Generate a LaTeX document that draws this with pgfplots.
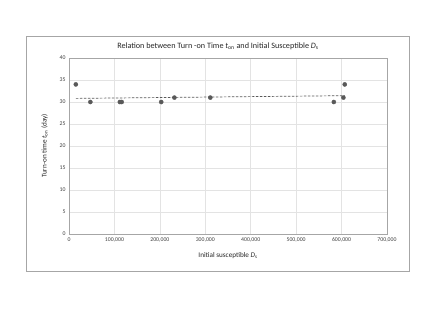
\documentclass[border=0pt]{standalone}
\usepackage{pgfplots}
\pgfplotsset{compat=1.18}
\usepackage{fontspec}
\setmainfont{Carlito}
\definecolor{mk}{HTML}{595959}
\definecolor{gridc}{HTML}{E3E3E3}
\definecolor{framec}{HTML}{A6A6A6}
\begin{document}
\begin{tikzpicture}[x=1bp,y=1bp]
\path[fill=white] (0,0) rectangle (436,308);
\draw[framec, line width=0.8bp] (26,37) rectangle (409,272);
\node[font=\fontsize{8.2}{9}\selectfont, text=black!85] at (218,262) {Relation between Turn -on Time \textit{t}\textsubscript{on} and Initial Susceptible \textit{D}\textsubscript{s}};
\begin{axis}[
  at={(69bp,74bp)}, anchor=south west,
  scale only axis, width=318bp, height=176bp,
  xmin=0, xmax=700000, ymin=0, ymax=40,
  scaled x ticks=false,
  xtick={0,100000,200000,300000,400000,500000,600000,700000},
  xticklabels={0,{100,000},{200,000},{300,000},{400,000},{500,000},{600,000},{700,000}},
  ytick={0,5,10,15,20,25,30,35,40},
  yticklabels={0,5,10,15,20,25,30,35,40},
  tick label style={font=\fontsize{5.8}{6.5}\selectfont, text=black!75},
  major tick length=0pt,
  grid=major, major grid style={gridc, line width=0.6bp},
  axis line style={framec, line width=0.9bp},
  xlabel={Initial susceptible \textit{D}\textsubscript{s}},
  ylabel={Turn-on time \textit{t}\textsubscript{on} (day)},
  label style={font=\fontsize{7.2}{8}\selectfont, text=black!85},
  xlabel style={yshift=-4bp},
  ylabel style={yshift=5bp},
  clip=false,
]
\addplot[mk, dash pattern=on 2.5bp off 1.5bp, line width=0.7bp, forget plot] coordinates {(15000,30.82) (607000,31.44)};
\addplot[only marks, mark=*, mark size=2.1bp, mark options={fill=mk, draw=mk, line width=0.3bp}] coordinates {
(15000,34) (47000,30) (112000,30) (116000,30) (203000,30) (232000,31) (311000,31) (583000,30) (604000,31) (607000,34)
};
\end{axis}
\end{tikzpicture}
\end{document}
